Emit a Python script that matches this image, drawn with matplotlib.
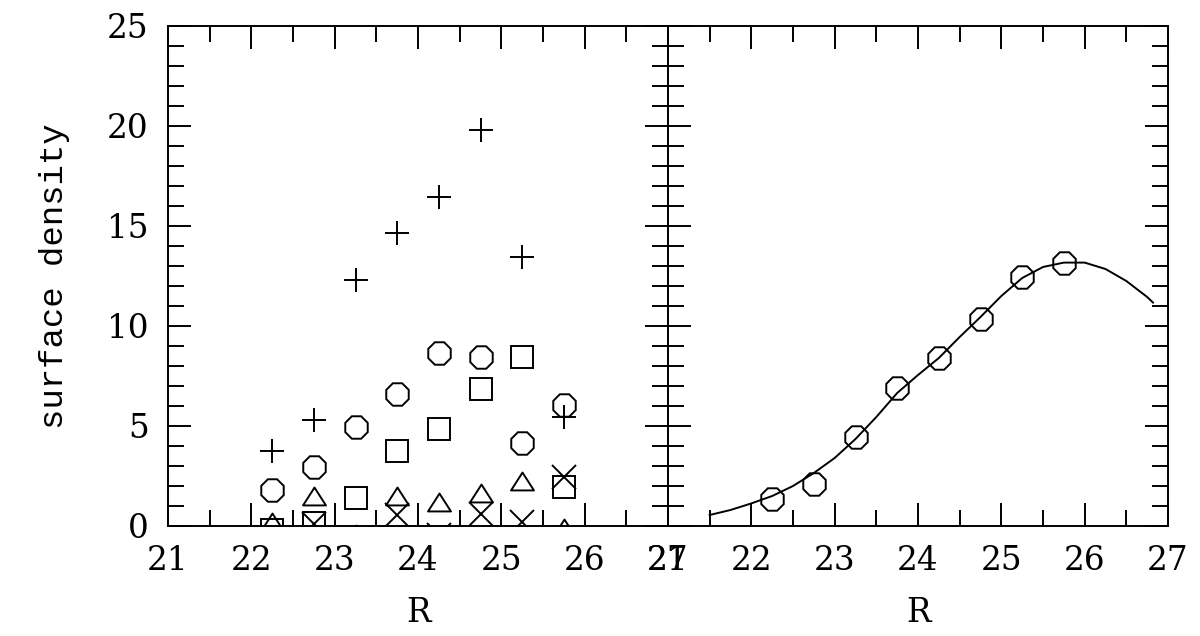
"""
Surface density vs R: per-sample points (left) and total with fit (right)
"""

import numpy as np
import matplotlib
matplotlib.use('Agg')  # Non-interactive backend
import matplotlib.pyplot as plt
from matplotlib.path import Path
from matplotlib.ticker import MultipleLocator

# bin centres in R
r_bins = [22.25, 22.75, 23.25, 23.75, 24.25, 24.75, 25.25, 25.75]

# left panel: five samples (nan = not visible in the plotted range)
dens_plus = [3.77, 5.3, 12.3, 14.67, 16.43, 19.8, 13.43, 5.47]
dens_circle = [1.8, 2.93, 4.97, 6.6, 8.67, 8.47, 4.13, 6.05]
dens_square = [-0.2, 0.15, 1.42, 3.77, 4.87, 6.85, 8.45, 1.97]
dens_triangle = [0.2, 1.48, -0.4, 1.5, 1.2, 1.63, 2.23, -0.1]
dens_cross = [np.nan, 0.1, np.nan, 0.55, -0.45, 0.6, 0.2, 2.47]

# right panel: summed density and the fitted curve
dens_total = [1.33, 2.08, 4.43, 6.88, 8.38, 10.35, 12.43, 13.17]
fit_r = [21.5, 21.75, 22.0, 22.25, 22.5, 22.75, 23.0, 23.25, 23.5, 23.75,
         24.0, 24.25, 24.5, 24.75, 25.0, 25.25, 25.5, 25.75, 26.0, 26.25,
         26.5, 26.75, 26.82]
fit_dens = [0.55, 0.8, 1.13, 1.5, 2.0, 2.65, 3.4, 4.35, 5.45, 6.65,
            7.55, 8.4, 9.45, 10.45, 11.5, 12.4, 12.95, 13.17, 13.17, 12.85,
            12.25, 11.45, 11.17]

SERIF = ['DejaVu Serif']
MONO = ['Liberation Mono', 'DejaVu Sans Mono']
LW = 1.4
plt.rcParams['font.family'] = SERIF
plt.rcParams['font.size'] = 23.5

# flattened triangle like the pgplot symbol
tri = Path([(-1, -0.78), (1, -0.78), (0, 0.78), (-1, -0.78)],
           [Path.MOVETO, Path.LINETO, Path.LINETO, Path.CLOSEPOLY])
octagon = (8, 0, 22.5)


def style_axis(ax, show_y):
    ax.set_xlim(21, 27)
    ax.set_ylim(0, 25)
    ax.xaxis.set_major_locator(MultipleLocator(1))
    ax.xaxis.set_minor_locator(MultipleLocator(0.5))
    ax.yaxis.set_major_locator(MultipleLocator(5))
    ax.yaxis.set_minor_locator(MultipleLocator(1))
    ax.tick_params(which='both', direction='in', top=True, right=True,
                   width=LW, colors='black')
    ax.tick_params(which='major', length=16.5)
    ax.tick_params(which='minor', length=11.5)
    ax.tick_params(axis='x', pad=14)
    ax.tick_params(axis='y', pad=14, labelleft=show_y)
    for spine in ax.spines.values():
        spine.set_linewidth(LW)
    ax.text(0.5, -0.175, 'R', transform=ax.transAxes, ha='center', va='center')


fig = plt.figure(figsize=(12, 6.36), dpi=100)
ax1 = fig.add_axes([168 / 1200, 110 / 636, 500 / 1200, 500 / 636])
ax2 = fig.add_axes([668 / 1200, 110 / 636, 500 / 1200, 500 / 636])

mk = dict(linestyle='none', color='black', markerfacecolor='none',
          markeredgewidth=LW)
ax1.plot(r_bins, dens_plus, marker='+', markersize=17.5, **mk)
ax1.plot(r_bins, dens_circle, marker=octagon, markersize=17.5, **mk)
ax1.plot(r_bins, dens_square, marker='s', markersize=16.5, **mk)
ax1.plot(r_bins, dens_triangle, marker=tri, markersize=16.5, **mk)
ax1.plot(r_bins, dens_cross, marker='x', markersize=17.5, **mk)

ax2.plot(fit_r, fit_dens, color='black', linewidth=LW)
ax2.plot(r_bins, dens_total, marker=octagon, markersize=17.5, **mk)

style_axis(ax1, True)
style_axis(ax2, False)

fig.text(55 / 1200, 1 - 276 / 636, 'surface density', rotation=90,
         ha='center', va='center', family=MONO, fontsize=24.5)

plt.savefig('out.png', dpi=100, facecolor='white')
plt.close()
